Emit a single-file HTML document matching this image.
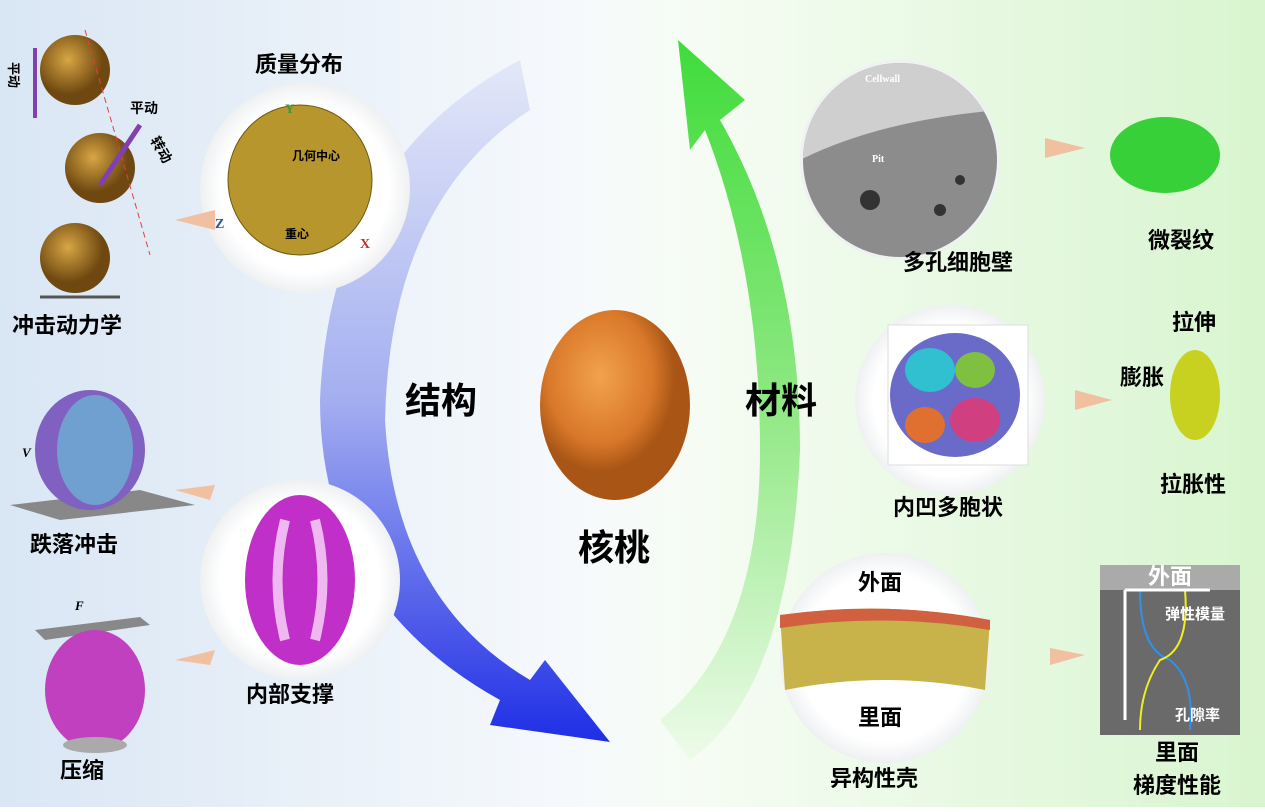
<!DOCTYPE html>
<html><head><meta charset="utf-8"><style>
html,body{margin:0;padding:0}
body{width:1265px;height:807px;overflow:hidden;font-family:"Liberation Sans","Noto Sans CJK SC",sans-serif}
</style></head><body>
<svg width="1265" height="807" viewBox="0 0 1265 807" xmlns="http://www.w3.org/2000/svg" font-family="Liberation Sans, Noto Sans CJK SC, sans-serif" font-weight="bold">
<defs>
<linearGradient id="bg" x1="0" x2="1" y1="0" y2="0">
<stop offset="0" stop-color="#d9e6f4"/><stop offset="0.45" stop-color="#f6f9fc"/><stop offset="0.55" stop-color="#f6fcf4"/><stop offset="1" stop-color="#d8f5cf"/></linearGradient>
<linearGradient id="blue" x1="0" y1="0" x2="0" y2="1"><stop offset="0" stop-color="#e3e8f8"/><stop offset="0.5" stop-color="#a3aef0"/><stop offset="1" stop-color="#1f2ee6"/></linearGradient>
<linearGradient id="green" x1="0" y1="1" x2="0" y2="0"><stop offset="0" stop-color="#eefbea"/><stop offset="0.5" stop-color="#8ee882"/><stop offset="1" stop-color="#3fdc3a"/></linearGradient>
<radialGradient id="circ"><stop offset="0.8" stop-color="#fff"/><stop offset="1" stop-color="#eef0f2"/></radialGradient>
<radialGradient id="wal" cx="0.4" cy="0.35"><stop offset="0" stop-color="#f2a24c"/><stop offset="0.7" stop-color="#d9782a"/><stop offset="1" stop-color="#a85515"/></radialGradient>
<radialGradient id="ball" cx="0.4" cy="0.35"><stop offset="0" stop-color="#d8a645"/><stop offset="1" stop-color="#6e4810"/></radialGradient>
<clipPath id="semc"><circle cx="900" cy="160" r="97"/></clipPath>
</defs>
<rect width="1265" height="807" fill="url(#bg)"/>
<path d="M520 60 Q330 160 320 400 Q320 600 500 700 L490 725 L610 742 L545 660 L530 680 Q395 600 385 420 Q390 200 530 110 Z" fill="url(#blue)"/>
<path d="M690 760 Q790 690 800 450 Q800 260 720 120 L745 100 L678 40 L690 150 L705 130 Q760 270 760 450 Q760 640 660 720 Z" fill="url(#green)"/>
<circle cx="305" cy="188" r="105" fill="url(#circ)"/>
<circle cx="300" cy="580" r="100" fill="url(#circ)"/>
<circle cx="900" cy="160" r="100" fill="url(#circ)"/>
<circle cx="950" cy="400" r="95" fill="url(#circ)"/>
<circle cx="885" cy="658" r="105" fill="url(#circ)"/>
<ellipse cx="300" cy="180" rx="72" ry="75" fill="#b8962e" stroke="#6d5a14"/>
<text x="292" y="160" font-size="12" fill="#000">几何中心</text>
<text x="285" y="238" font-size="12" fill="#000">重心</text>
<text x="285" y="113" font-size="13" fill="#3a9a3a" font-family="Liberation Serif">Y</text>
<text x="215" y="228" font-size="14" fill="#3050a0" font-family="Liberation Serif">Z</text>
<text x="360" y="248" font-size="14" fill="#c03030" font-family="Liberation Serif">X</text>
<ellipse cx="300" cy="580" rx="55" ry="85" fill="#c030c8"/>
<path d="M285 520 Q270 580 285 640 M315 520 Q330 580 315 640" stroke="#f0b8f0" stroke-width="10" fill="none"/>
<g clip-path="url(#semc)">
<rect x="800" y="60" width="200" height="200" fill="#8c8c8c"/>
<path d="M800 160 Q880 120 1000 110 L1000 60 L800 60Z" fill="#cfcfcf"/>
<circle cx="870" cy="200" r="10" fill="#333"/><circle cx="940" cy="210" r="6" fill="#333"/><circle cx="960" cy="180" r="5" fill="#333"/>
</g>
<text x="865" y="82" font-size="10" fill="#fff" font-family="Liberation Serif">Cellwall</text>
<text x="872" y="162" font-size="10" fill="#fff" font-family="Liberation Serif">Pit</text>
<rect x="888" y="325" width="140" height="140" fill="#fff" stroke="#ddd"/>
<ellipse cx="955" cy="395" rx="65" ry="62" fill="#6a6ac8"/>
<ellipse cx="930" cy="370" rx="25" ry="22" fill="#30c0d0"/><ellipse cx="975" cy="420" rx="25" ry="22" fill="#d04080"/><ellipse cx="975" cy="370" rx="20" ry="18" fill="#80c040"/><ellipse cx="925" cy="425" rx="20" ry="18" fill="#e07030"/>
<path d="M780 615 Q885 600 990 620 L985 690 Q885 670 785 690 Z" fill="#c8b24a"/>
<path d="M780 615 Q885 600 990 620 L990 630 Q885 612 780 628Z" fill="#d06040"/>
<ellipse cx="615" cy="405" rx="75" ry="95" fill="url(#wal)"/>
<circle cx="75" cy="70" r="35" fill="url(#ball)"/>
<circle cx="100" cy="168" r="35" fill="url(#ball)"/>
<circle cx="75" cy="258" r="35" fill="url(#ball)"/>
<line x1="35" y1="48" x2="35" y2="118" stroke="#8040b0" stroke-width="4"/>
<line x1="85" y1="30" x2="150" y2="255" stroke="#e04040" stroke-dasharray="6 4"/>
<path d="M100 185 L140 125" stroke="#8040b0" stroke-width="5"/>
<line x1="40" y1="297" x2="120" y2="297" stroke="#555" stroke-width="3"/>
<text x="130" y="113" font-size="14">平动</text>
<text x="150" y="140" font-size="14" transform="rotate(60 150 140)">转动</text>
<text x="9" y="62" font-size="13" transform="rotate(90 9 62)">平动</text>
<polygon points="10,505 140,490 195,505 60,520" fill="#888"/>
<ellipse cx="90" cy="450" rx="55" ry="60" fill="#8060c0"/>
<ellipse cx="95" cy="450" rx="38" ry="55" fill="#70a0d0"/>
<text x="22" y="457" font-size="13" font-style="italic" font-family="Liberation Serif">V</text>
<polygon points="35,630 140,617 150,625 45,640" fill="#888"/>
<ellipse cx="95" cy="690" rx="50" ry="60" fill="#c040c0"/>
<ellipse cx="95" cy="745" rx="32" ry="8" fill="#aaa"/>
<text x="75" y="610" font-size="13" font-style="italic" font-family="Liberation Serif">F</text>
<ellipse cx="1165" cy="155" rx="55" ry="38" fill="#38d038"/>
<ellipse cx="1195" cy="395" rx="25" ry="45" fill="#c8d020"/>
<rect x="1100" y="565" width="140" height="170" fill="#6a6a6a"/>
<rect x="1100" y="565" width="140" height="25" fill="#aaa"/>
<path d="M1140 590 Q1140 650 1170 660 Q1195 680 1190 730" stroke="#3090f0" stroke-width="2" fill="none"/>
<path d="M1185 590 Q1190 650 1160 660 Q1140 690 1140 730" stroke="#f0f020" stroke-width="2" fill="none"/>
<path d="M1125 590 L1210 590 M1125 590 L1125 720" stroke="#fff" stroke-width="3"/>
<text x="1148" y="584" font-size="22" fill="#fff">外面</text>
<text x="1165" y="619" font-size="15" fill="#fff">弹性模量</text>
<text x="1175" y="720" font-size="15" fill="#fff">孔隙率</text>
<g fill="#f0c0a0"><polygon points="215,210 175,220 215,230"/><polygon points="215,485 175,490 210,500"/><polygon points="215,650 175,660 210,665"/>
<polygon points="1045,138 1085,148 1045,158"/><polygon points="1075,390 1112,400 1075,410"/><polygon points="1050,648 1085,655 1050,665"/></g>
<g font-size="22" fill="#000">
<text x="255" y="72">质量分布</text>
<text x="12" y="333">冲击动力学</text>
<text x="30" y="552">跌落冲击</text>
<text x="60" y="778">压缩</text>
<text x="246" y="702">内部支撑</text>
<text x="903" y="270">多孔细胞壁</text>
<text x="1148" y="248">微裂纹</text>
<text x="1172" y="330">拉伸</text>
<text x="1120" y="385">膨胀</text>
<text x="1160" y="492">拉胀性</text>
<text x="893" y="515">内凹多胞状</text>
<text x="858" y="590">外面</text>
<text x="858" y="725">里面</text>
<text x="830" y="786">异构性壳</text>
<text x="1155" y="760">里面</text>
<text x="1133" y="793">梯度性能</text>
</g>
<g font-size="36" fill="#000">
<text x="405" y="413">结构</text>
<text x="745" y="413">材料</text>
<text x="578" y="560">核桃</text>
</g>
</svg>
</body></html>
